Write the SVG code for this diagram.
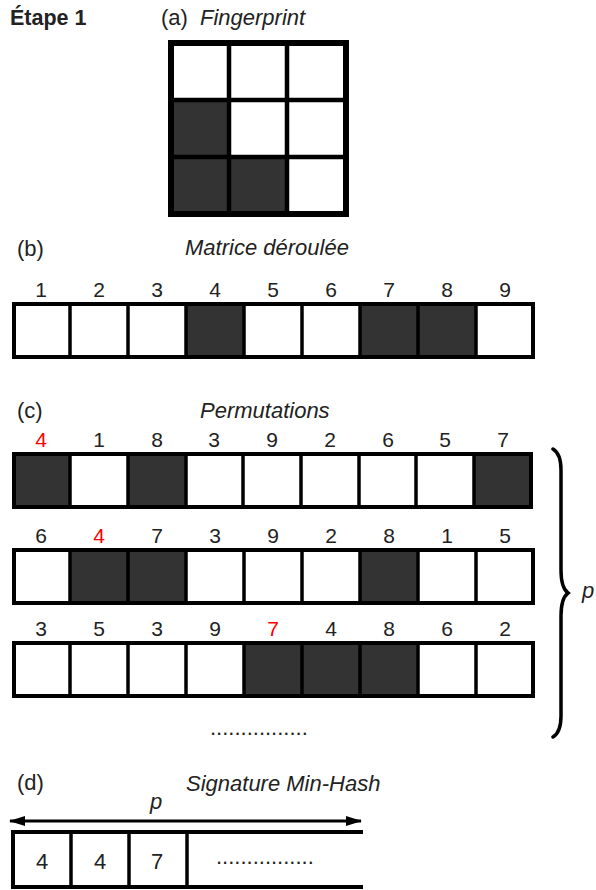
<svg xmlns="http://www.w3.org/2000/svg" width="596" height="890" viewBox="0 0 596 890">
<defs>
<style>
.lbl{font-family:"Liberation Sans",Arial,sans-serif;font-size:22px;fill:#222}
.it{font-style:italic}
.num{font-family:"Liberation Sans",Arial,sans-serif;font-size:21px;fill:#222;text-anchor:middle}
.red{fill:#ff0000}
.dk{fill:#333333}
.wt{fill:#ffffff}
.frame{fill:none;stroke:#000;stroke-width:4}
.div{stroke:#000;stroke-width:3.5}
.dots{font-family:"Liberation Sans",Arial,sans-serif;font-size:22px;fill:#222}
</style>
<marker id="ah" viewBox="0 0 16 10" refX="15" refY="5" markerWidth="16" markerHeight="10" markerUnits="userSpaceOnUse" orient="auto-start-reverse">
<path d="M0,0 L16,5 L0,10 Z" fill="#000"/>
</marker>
</defs>
<rect width="596" height="890" fill="#fff"/>

<g id="titles">
<text x="10" y="25" style="font-family:'Liberation Sans',Arial,sans-serif;font-size:21.5px;font-weight:bold;fill:#222">Étape 1</text>
<text class="lbl" x="161" y="25">(a)</text>
<text class="lbl it" x="200" y="25">Fingerprint</text>
<text class="lbl" x="17" y="256">(b)</text>
<text class="lbl it" x="185" y="255">Matrice déroulée</text>
<text class="lbl" x="17" y="418">(c)</text>
<text class="lbl it" x="200" y="418">Permutations</text>
<text class="lbl" x="17" y="790">(d)</text>
<text class="lbl it" x="186" y="791">Signature Min-Hash</text>
</g>

<g id="fingerprint">
<rect class="wt" x="171" y="43" width="175" height="171"/>
<rect class="dk" x="171" y="100" width="58" height="57"/>
<rect class="dk" x="171" y="157" width="58" height="57"/>
<rect class="dk" x="229" y="157" width="58" height="57"/>
<line class="div" x1="229" y1="43" x2="229" y2="214" style="stroke-width:4.5"/>
<line class="div" x1="287" y1="43" x2="287" y2="214" style="stroke-width:4.5"/>
<line class="div" x1="171" y1="100" x2="346" y2="100" style="stroke-width:4.5"/>
<line class="div" x1="171" y1="157" x2="346" y2="157" style="stroke-width:4.5"/>
<rect x="171" y="43" width="175" height="171" fill="none" stroke="#000" stroke-width="6"/>
</g>

<g id="row-b">
<rect class="wt" x="14" y="304" width="519" height="53"/>
<rect class="dk" x="186" y="304" width="58" height="53"/>
<rect class="dk" x="360" y="304" width="116" height="53"/>
<line class="div" x1="70" y1="304" x2="70" y2="357"/>
<line class="div" x1="128" y1="304" x2="128" y2="357"/>
<line class="div" x1="186" y1="304" x2="186" y2="357"/>
<line class="div" x1="244" y1="304" x2="244" y2="357"/>
<line class="div" x1="302" y1="304" x2="302" y2="357"/>
<line class="div" x1="360" y1="304" x2="360" y2="357"/>
<line class="div" x1="418" y1="304" x2="418" y2="357"/>
<line class="div" x1="476" y1="304" x2="476" y2="357"/>
<rect class="frame" x="14" y="304" width="519" height="53"/>
<text class="num" x="41" y="297">1</text>
<text class="num" x="99" y="297">2</text>
<text class="num" x="157" y="297">3</text>
<text class="num" x="215" y="297">4</text>
<text class="num" x="273" y="297">5</text>
<text class="num" x="331" y="297">6</text>
<text class="num" x="389" y="297">7</text>
<text class="num" x="447" y="297">8</text>
<text class="num" x="505" y="297">9</text>
</g>

<g id="perm-1">
<rect class="wt" x="14" y="454" width="517" height="53"/>
<rect class="dk" x="14" y="454" width="56" height="53"/>
<rect class="dk" x="128" y="454" width="58" height="53"/>
<rect class="dk" x="474" y="454" width="57" height="53"/>
<line class="div" x1="70" y1="454" x2="70" y2="507"/>
<line class="div" x1="128" y1="454" x2="128" y2="507"/>
<line class="div" x1="186" y1="454" x2="186" y2="507"/>
<line class="div" x1="243" y1="454" x2="243" y2="507"/>
<line class="div" x1="301" y1="454" x2="301" y2="507"/>
<line class="div" x1="359" y1="454" x2="359" y2="507"/>
<line class="div" x1="416" y1="454" x2="416" y2="507"/>
<line class="div" x1="474" y1="454" x2="474" y2="507"/>
<rect class="frame" x="14" y="454" width="517" height="53"/>
<text class="num red" x="41" y="447">4</text>
<text class="num" x="99" y="447">1</text>
<text class="num" x="157" y="447">8</text>
<text class="num" x="214" y="447">3</text>
<text class="num" x="272" y="447">9</text>
<text class="num" x="330" y="447">2</text>
<text class="num" x="388" y="447">6</text>
<text class="num" x="445" y="447">5</text>
<text class="num" x="503" y="447">7</text>
</g>

<g id="perm-2">
<rect class="wt" x="14" y="550" width="519" height="53"/>
<rect class="dk" x="70" y="550" width="116" height="53"/>
<rect class="dk" x="360" y="550" width="58" height="53"/>
<line class="div" x1="70" y1="550" x2="70" y2="603"/>
<line class="div" x1="128" y1="550" x2="128" y2="603"/>
<line class="div" x1="186" y1="550" x2="186" y2="603"/>
<line class="div" x1="244" y1="550" x2="244" y2="603"/>
<line class="div" x1="302" y1="550" x2="302" y2="603"/>
<line class="div" x1="360" y1="550" x2="360" y2="603"/>
<line class="div" x1="418" y1="550" x2="418" y2="603"/>
<line class="div" x1="476" y1="550" x2="476" y2="603"/>
<rect class="frame" x="14" y="550" width="519" height="53"/>
<text class="num" x="41" y="543">6</text>
<text class="num red" x="99" y="543">4</text>
<text class="num" x="157" y="543">7</text>
<text class="num" x="215" y="543">3</text>
<text class="num" x="273" y="543">9</text>
<text class="num" x="331" y="543">2</text>
<text class="num" x="389" y="543">8</text>
<text class="num" x="447" y="543">1</text>
<text class="num" x="505" y="543">5</text>
</g>

<g id="perm-3">
<rect class="wt" x="14" y="643" width="519" height="53"/>
<rect class="dk" x="244" y="643" width="174" height="53"/>
<line class="div" x1="70" y1="643" x2="70" y2="696"/>
<line class="div" x1="128" y1="643" x2="128" y2="696"/>
<line class="div" x1="186" y1="643" x2="186" y2="696"/>
<line class="div" x1="244" y1="643" x2="244" y2="696"/>
<line class="div" x1="302" y1="643" x2="302" y2="696"/>
<line class="div" x1="360" y1="643" x2="360" y2="696"/>
<line class="div" x1="418" y1="643" x2="418" y2="696"/>
<line class="div" x1="476" y1="643" x2="476" y2="696"/>
<rect class="frame" x="14" y="643" width="519" height="53"/>
<text class="num" x="41" y="636">3</text>
<text class="num" x="99" y="636">5</text>
<text class="num" x="157" y="636">3</text>
<text class="num" x="215" y="636">9</text>
<text class="num red" x="273" y="636">7</text>
<text class="num" x="331" y="636">4</text>
<text class="num" x="389" y="636">8</text>
<text class="num" x="447" y="636">6</text>
<text class="num" x="505" y="636">2</text>
</g>

<g id="perm-more">
<text class="dots" x="210" y="735">................</text>
</g>

<g id="brace">
<path d="M553,449 C558,452 561,458 561,470 L561,570 C561,584 564,590 568,593 C564,596 561,602 561,616 L561,716 C561,728 558,734 553,737" fill="none" stroke="#000" stroke-width="3.5" stroke-linecap="round"/>
<text class="lbl it" x="582" y="598">p</text>
</g>

<g id="signature">
<line x1="12" y1="832" x2="363" y2="832" stroke="#000" stroke-width="4"/>
<line x1="12" y1="887" x2="363" y2="887" stroke="#000" stroke-width="4"/>
<line x1="13" y1="830" x2="13" y2="889" stroke="#000" stroke-width="4"/>
<line class="div" x1="71" y1="832" x2="71" y2="889"/>
<line class="div" x1="129" y1="832" x2="129" y2="889"/>
<line class="div" x1="187" y1="832" x2="187" y2="889"/>
<text class="num" x="42" y="869" style="font-size:22px">4</text>
<text class="num" x="100" y="869" style="font-size:22px">4</text>
<text class="num" x="157" y="869" style="font-size:22px">7</text>
<text class="dots" x="216" y="864">................</text>
</g>

<g id="connectors">
<line x1="10" y1="821" x2="361" y2="821" stroke="#000" stroke-width="3" marker-start="url(#ah)" marker-end="url(#ah)"/>
<text class="lbl it" x="150" y="809">p</text>
</g>
</svg>
